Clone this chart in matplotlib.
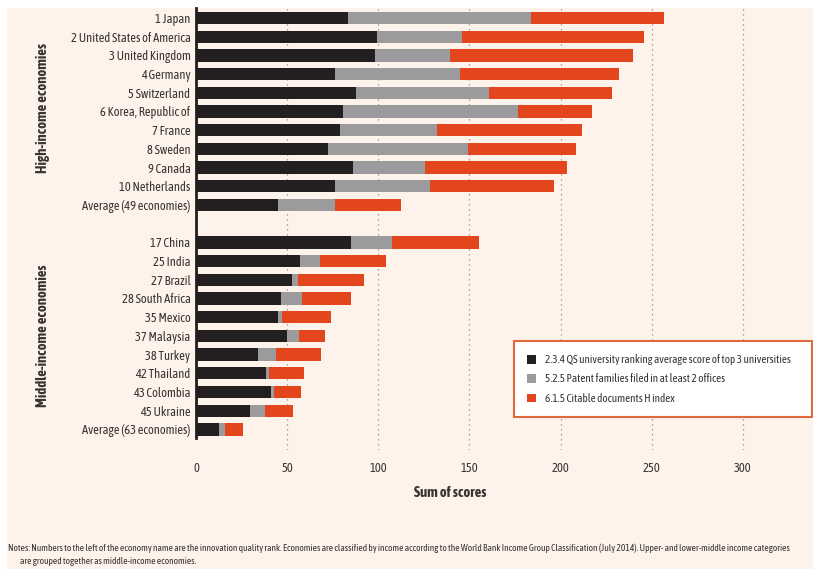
import matplotlib
matplotlib.use("Agg")
import matplotlib.pyplot as plt
from matplotlib.patches import Rectangle
from matplotlib import font_manager

entries = font_manager.fontManager.ttflist


def _w(f):
    w = f.weight
    if isinstance(w, str):
        return font_manager.weight_dict.get(w, 400)
    return w


narrow = sorted(set(f.name for f in entries if "Narrow" in f.name or "Condensed" in f.name))
with_bold = [n for n in narrow if any(f.name == n and _w(f) >= 600 for f in entries)]
FONT = (with_bold or narrow or ["Liberation Sans"])[0]
plt.rcParams["font.family"] = [FONT, "DejaVu Sans"]

high_labels = ["1 Japan", "2 United States of America", "3 United Kingdom", "4 Germany",
               "5 Switzerland", "6 Korea, Republic of", "7 France", "8 Sweden", "9 Canada",
               "10 Netherlands", "Average (49 economies)"]
high_qs = [83.5, 99.5, 98.2, 76.2, 87.6, 80.4, 79.0, 72.2, 86.0, 76.0, 44.9]
high_patent = [100.0, 46.5, 41.0, 68.8, 73.4, 96.2, 53.2, 76.8, 39.8, 52.6, 31.3]
high_hindex = [73.1, 100.0, 100.4, 87.0, 67.0, 40.4, 79.8, 59.6, 77.7, 67.9, 36.3]

mid_labels = ["17 China", "25 India", "27 Brazil", "28 South Africa", "35 Mexico",
              "37 Malaysia", "38 Turkey", "42 Thailand", "43 Colombia", "45 Ukraine",
              "Average (63 economies)"]
mid_qs = [84.8, 57.3, 52.6, 46.9, 44.9, 49.8, 33.9, 38.6, 41.0, 29.5, 12.8]
mid_patent = [22.9, 10.5, 3.3, 11.3, 2.2, 6.8, 9.9, 1.3, 1.7, 8.6, 3.3]
mid_hindex = [47.8, 36.4, 36.2, 27.1, 26.7, 14.1, 24.5, 19.1, 15.0, 15.2, 9.9]

series_names = ["2.3.4 QS university ranking average score of top 3 universities",
                "5.2.5 Patent families filed in at least 2 offices",
                "6.1.5 Citable documents H index"]
xticks = [0, 50, 100, 150, 200, 250, 300]

C_BLACK = "#231f20"
C_GRAY = "#9b9a9c"
C_RED = "#e3461c"
C_BG = "#fdf3ea"
C_TEXT = "#3a3333"

W, H = 813, 569
fig = plt.figure(figsize=(W / 100, H / 100), dpi=100, facecolor="white")
fig.patches.append(Rectangle((7 / W, 0), 1 - 7 / W, 1 - 8 / H, transform=fig.transFigure,
                             facecolor=C_BG, edgecolor="none", zorder=-10))

ax_left, ax_right = 196 / W, 1.0
ax_top, ax_bot = 8, 450
AXH = ax_bot - ax_top
AXW = 812 - 196
ax = fig.add_axes([ax_left, 1 - ax_bot / H, ax_right - ax_left, AXH / H])
ax.set_facecolor("none")
ax.set_zorder(1)

labels = high_labels + mid_labels
qs = high_qs + mid_qs
pat = high_patent + mid_patent
hix = high_hindex + mid_hindex
ypos = list(range(11)) + list(range(12, 23))

h = 0.66
lefts2 = [a for a in qs]
lefts3 = [a + b for a, b in zip(qs, pat)]
ax.barh(ypos, qs, height=h, color=C_BLACK, label=series_names[0], zorder=3)
ax.barh(ypos, pat, left=lefts2, height=h, color=C_GRAY, label=series_names[1], zorder=3)
ax.barh(ypos, hix, left=lefts3, height=h, color=C_RED, label=series_names[2], zorder=3)

ax.set_xlim(0, AXW / 1.82)
ax.set_ylim((450 - 18) / 18.7, (8 - 18) / 18.7)
ax.set_yticks(ypos)
ax.set_yticklabels(labels, fontsize=9, color=C_TEXT)
ax.tick_params(axis="y", length=0, pad=4)
ax.set_xticks(xticks)
ax.set_xticklabels([str(v) for v in xticks], fontsize=9, color=C_TEXT)
ax.tick_params(axis="x", length=0, pad=9)
for xv in xticks[1:]:
    ax.axvline(xv, color="#8a8a8a", lw=0.9, ls=(0, (1, 3)), zorder=1)
for s in ["top", "right", "bottom"]:
    ax.spines[s].set_visible(False)
ax.spines["left"].set_color(C_BLACK)
ax.spines["left"].set_linewidth(2)
ax.spines["left"].set_bounds((438 - 18) / 18.7, (8 - 18) / 18.7)

BOLD = "bold"
fig.text(450 / W, 1 - 493 / H, "Sum of scores", ha="center", va="center",
         fontsize=10.5, fontweight=BOLD, color=C_TEXT)

fig.text(43 / W, 1 - 108 / H, "High-income economies", rotation=90, ha="center", va="center",
         fontsize=10.5, fontweight=BOLD, color=C_TEXT)
fig.text(43 / W, 1 - 336 / H, "Middle-income economies", rotation=90, ha="center", va="center",
         fontsize=10.5, fontweight=BOLD, color=C_TEXT)

leg_x0 = (513 - 196) / AXW
leg_y0 = 1 - (418 - ax_top) / AXH
leg_w = (811 - 513) / AXW
leg_h = (418 - 340) / AXH
leg = ax.legend(loc="center left", bbox_to_anchor=(leg_x0, leg_y0, leg_w, leg_h),
                mode="expand", frameon=True, fancybox=False, fontsize=8, handlelength=0.8,
                handleheight=0.8, labelspacing=0.75, borderpad=1.2, handletextpad=0.8,
                borderaxespad=0)
leg.get_frame().set_edgecolor("#e06a3c")
leg.get_frame().set_linewidth(1.5)
leg.get_frame().set_facecolor("white")
leg.get_frame().set_alpha(1)
for t in leg.get_texts():
    t.set_color(C_TEXT)

fig.text(8 / W, 1 - 548 / H,
         "Notes: Numbers to the left of the economy name are the innovation quality rank. Economies are classified by income according to the World Bank Income Group Classification (July 2014). Upper- and lower-middle income categories",
         fontsize=6.8, color=C_TEXT, ha="left", va="center")
fig.text(20 / W, 1 - 562 / H, "are grouped together as middle-income economies.",
         fontsize=6.8, color=C_TEXT, ha="left", va="center")

fig.savefig("out.png", dpi=100, facecolor="white")
